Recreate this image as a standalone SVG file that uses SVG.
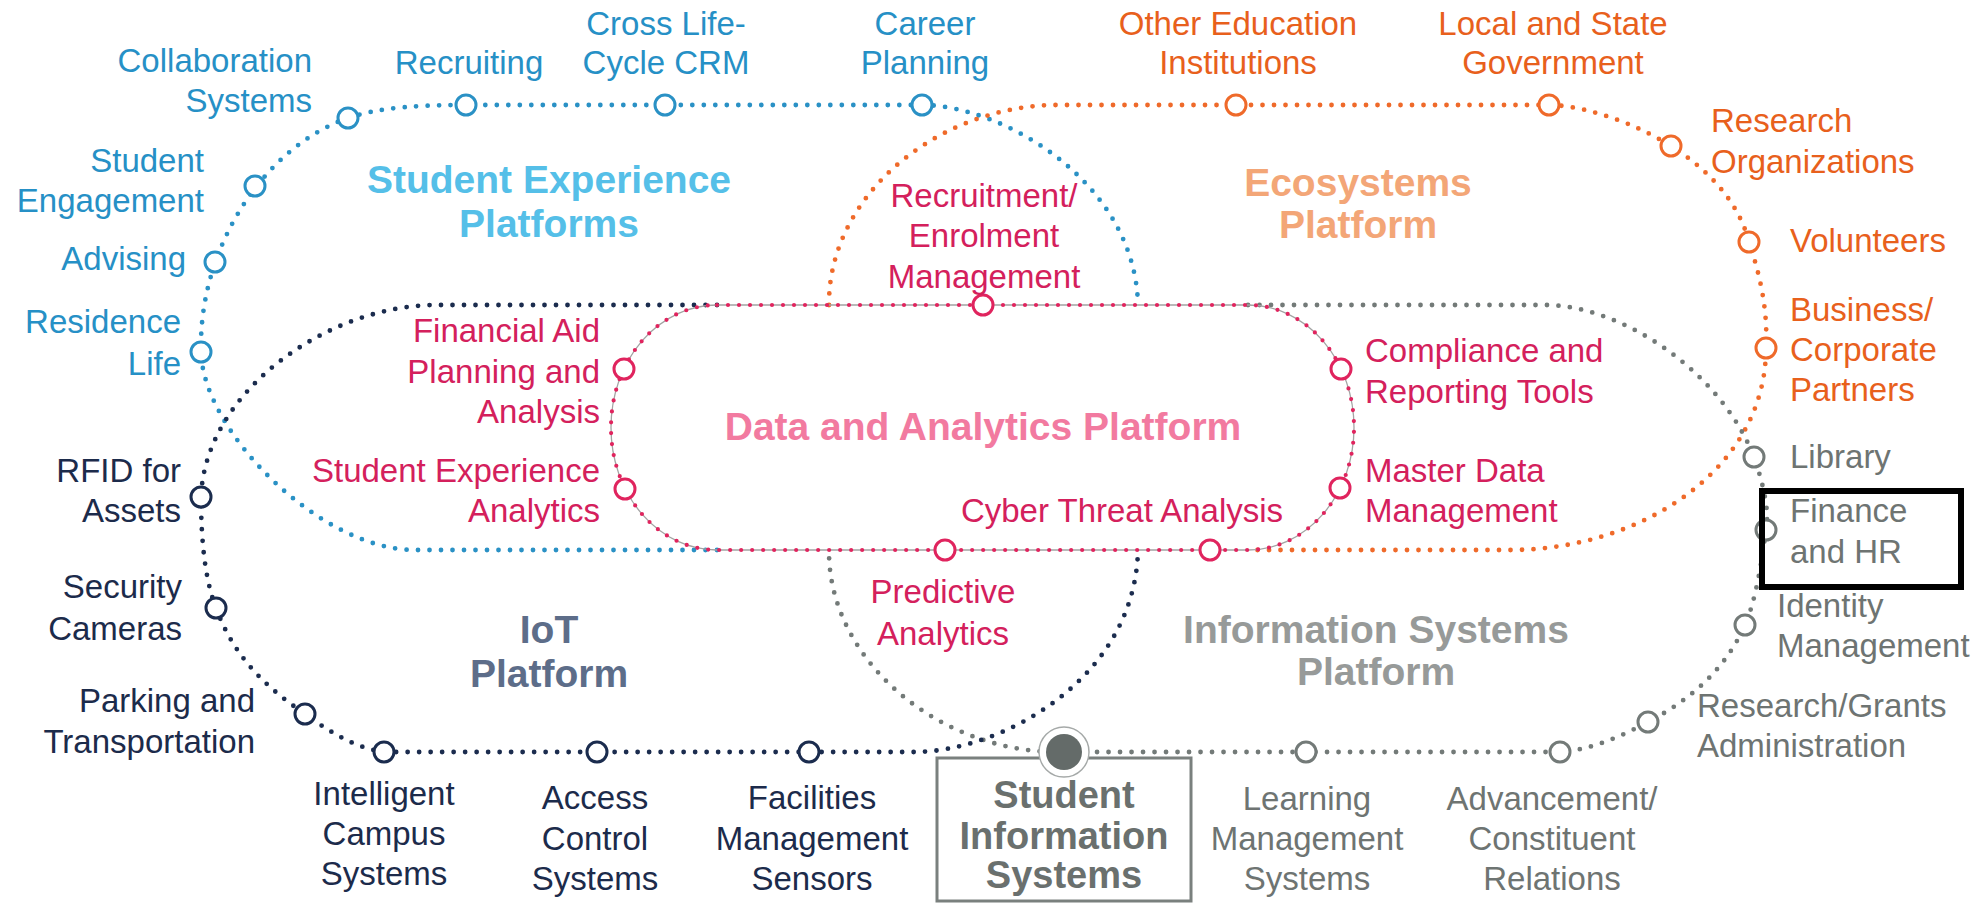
<svg xmlns="http://www.w3.org/2000/svg" width="1985" height="907" viewBox="0 0 1985 907">
<style>
text{font-family:"Liberation Sans",Arial,sans-serif;font-size:33px}
.dot{fill:none;stroke-width:4.8;stroke-linecap:round;stroke-dasharray:0 11.5}
.pd{fill:none;stroke-width:4.2;stroke-linecap:round;stroke-dasharray:0 11}
.n{fill:#fff;stroke-width:3}
.b{stroke:#2a91c5}.o{stroke:#ef6a2a}.g{stroke:#737a78}.v{stroke:#1b2c4e}.p{stroke:#e0245e}
.cb{fill:#2690c6}.co{fill:#e8601c}.cp{fill:#d4205c}.cn{fill:#1c2b4b}.cg{fill:#6e7472}
.t{font-weight:bold;font-size:39px}
.tb{fill:#55bfe8}.to{fill:#f3a677}.tp{fill:#f27aa0}.tn{fill:#5d6d89}.tg{fill:#979a99}
.m{text-anchor:middle}.e{text-anchor:end}
.sis{font-weight:bold;font-size:38px;fill:#6a706e}
</style>

<g id="connectors">
  <path class="dot b" d="M717,550 L415,550 C320,550 201,430 201,350 C199,250 262,148 348,118 C381,107 420,105 466,105 L922,105 C1000,105 1135,180 1138,305"/>
  <path class="dot o" d="M829,305 C828,200 930,110 1050,105 L1549,105 C1600,105 1725,150 1749,242 C1760,275 1768,310 1766,348 C1766,470 1640,550 1510,550 L1248,550"/>
  <path class="dot g" d="M1248,305 L1545,305 C1620,305 1720,370 1754,457 C1762,480 1770,510 1766,530 C1762,560 1756,600 1745,625 C1725,670 1690,700 1648,722 C1620,737 1590,750 1560,752 L1050,752 C930,747 828,655 829,550"/>
  <path class="dot v" d="M717,305 L436,305 C330,305 205,390 201,497 C201,540 205,580 216,608 C235,660 270,690 305,714 C330,732 355,748 384,752 L914,752 C1000,752 1135,680 1138,550"/>
  <rect x="611" y="305" width="743" height="245" rx="106" ry="122.5" fill="none" stroke="#a3a3a3" stroke-width="1.3"/>
  <rect class="pd p" x="611" y="305" width="743" height="245" rx="106" ry="122.5"/>
</g>

<g id="title-student-experience"><text class="t tb m" x="549" y="193">Student Experience</text><text class="t tb m" x="549" y="237">Platforms</text></g>
<g id="title-ecosystems"><text class="t to m" x="1358" y="196">Ecosystems</text><text class="t to m" x="1358" y="238">Platform</text></g>
<g id="title-data-analytics"><text class="t tp m" x="983" y="440">Data and Analytics Platform</text></g>
<g id="title-iot"><text class="t tn m" x="549" y="643">IoT</text><text class="t tn m" x="549" y="687">Platform</text></g>
<g id="title-information-systems"><text class="t tg m" x="1376" y="643">Information Systems</text><text class="t tg m" x="1376" y="685">Platform</text></g>

<!-- Student experience nodes -->
<g id="collaboration-systems"><circle class="n b" cx="348" cy="118" r="10"/><text class="cb e" x="312" y="72">Collaboration</text><text class="cb e" x="312" y="112">Systems</text></g>
<g id="recruiting"><circle class="n b" cx="466" cy="105" r="10"/><text class="cb m" x="469" y="74">Recruiting</text></g>
<g id="cross-life-cycle-crm"><circle class="n b" cx="665" cy="105" r="10"/><text class="cb m" x="666" y="35">Cross Life-</text><text class="cb m" x="666" y="74">Cycle CRM</text></g>
<g id="career-planning"><circle class="n b" cx="922" cy="105" r="10"/><text class="cb m" x="925" y="35">Career</text><text class="cb m" x="925" y="74">Planning</text></g>
<g id="student-engagement"><circle class="n b" cx="255" cy="186" r="10"/><text class="cb e" x="204" y="172">Student</text><text class="cb e" x="204" y="212">Engagement</text></g>
<g id="advising"><circle class="n b" cx="215" cy="262" r="10"/><text class="cb e" x="186" y="270">Advising</text></g>
<g id="residence-life"><circle class="n b" cx="201" cy="352" r="10"/><text class="cb e" x="181" y="333">Residence</text><text class="cb e" x="181" y="375">Life</text></g>

<!-- Ecosystems nodes -->
<g id="other-education"><circle class="n o" cx="1236" cy="105" r="10"/><text class="co m" x="1238" y="35">Other Education</text><text class="co m" x="1238" y="74">Institutions</text></g>
<g id="local-state-government"><circle class="n o" cx="1549" cy="105" r="10"/><text class="co m" x="1553" y="35">Local and State</text><text class="co m" x="1553" y="74">Government</text></g>
<g id="research-organizations"><circle class="n o" cx="1671" cy="146" r="10"/><text class="co" x="1711" y="132">Research</text><text class="co" x="1711" y="173">Organizations</text></g>
<g id="volunteers"><circle class="n o" cx="1749" cy="242" r="10"/><text class="co" x="1790" y="252">Volunteers</text></g>
<g id="business-partners"><circle class="n o" cx="1766" cy="348" r="10"/><text class="co" x="1790" y="321">Business/</text><text class="co" x="1790" y="361">Corporate</text><text class="co" x="1790" y="401">Partners</text></g>

<!-- Information systems nodes -->
<g id="library"><circle class="n g" cx="1754" cy="457" r="10"/><text class="cg" x="1790" y="468">Library</text></g>
<g id="finance-hr"><circle class="n g" cx="1766" cy="530" r="10"/><text class="cg" x="1790" y="522">Finance</text><text class="cg" x="1790" y="563">and HR</text><rect x="1762" y="491" width="199" height="96" fill="none" stroke="#000" stroke-width="6"/></g>
<g id="identity-management"><circle class="n g" cx="1745" cy="625" r="10"/><text class="cg" x="1777" y="617">Identity</text><text class="cg" x="1777" y="657">Management</text></g>
<g id="research-grants"><circle class="n g" cx="1648" cy="722" r="10"/><text class="cg" x="1697" y="717">Research/Grants</text><text class="cg" x="1697" y="757">Administration</text></g>
<g id="advancement"><circle class="n g" cx="1560" cy="752" r="10"/><text class="cg m" x="1552" y="810">Advancement/</text><text class="cg m" x="1552" y="850">Constituent</text><text class="cg m" x="1552" y="890">Relations</text></g>
<g id="learning-management"><circle class="n g" cx="1306" cy="752" r="10"/><text class="cg m" x="1307" y="810">Learning</text><text class="cg m" x="1307" y="850">Management</text><text class="cg m" x="1307" y="890">Systems</text></g>
<g id="student-information-systems">
  <rect x="937" y="758" width="254" height="143" fill="none" stroke="#7a807e" stroke-width="3"/>
  <circle cx="1064" cy="752" r="25" fill="#fff" stroke="#a5a9a8" stroke-width="1.5"/>
  <circle cx="1064" cy="752" r="18" fill="#646b69"/>
  <text class="sis m" x="1064" y="808">Student</text>
  <text class="sis m" x="1064" y="849">Information</text>
  <text class="sis m" x="1064" y="888">Systems</text>
</g>

<!-- IoT nodes -->
<g id="rfid-assets"><circle class="n v" cx="201" cy="497" r="10"/><text class="cn e" x="181" y="482">RFID for</text><text class="cn e" x="181" y="522">Assets</text></g>
<g id="security-cameras"><circle class="n v" cx="216" cy="608" r="10"/><text class="cn e" x="182" y="598">Security</text><text class="cn e" x="182" y="640">Cameras</text></g>
<g id="parking-transportation"><circle class="n v" cx="305" cy="714" r="10"/><text class="cn e" x="255" y="712">Parking and</text><text class="cn e" x="255" y="753">Transportation</text></g>
<g id="intelligent-campus"><circle class="n v" cx="384" cy="752" r="10"/><text class="cn m" x="384" y="805">Intelligent</text><text class="cn m" x="384" y="845">Campus</text><text class="cn m" x="384" y="885">Systems</text></g>
<g id="access-control"><circle class="n v" cx="597" cy="752" r="10"/><text class="cn m" x="595" y="809">Access</text><text class="cn m" x="595" y="850">Control</text><text class="cn m" x="595" y="890">Systems</text></g>
<g id="facilities-sensors"><circle class="n v" cx="809" cy="752" r="10"/><text class="cn m" x="812" y="809">Facilities</text><text class="cn m" x="812" y="850">Management</text><text class="cn m" x="812" y="890">Sensors</text></g>

<!-- Data and analytics nodes -->
<g id="recruitment-enrolment"><circle class="n p" cx="983" cy="305" r="10"/><text class="cp m" x="984" y="207">Recruitment/</text><text class="cp m" x="984" y="247">Enrolment</text><text class="cp m" x="984" y="288">Management</text></g>
<g id="financial-aid"><circle class="n p" cx="624" cy="369" r="10"/><text class="cp e" x="600" y="342">Financial Aid</text><text class="cp e" x="600" y="383">Planning and</text><text class="cp e" x="600" y="423">Analysis</text></g>
<g id="student-experience-analytics"><circle class="n p" cx="625" cy="489" r="10"/><text class="cp e" x="600" y="482">Student Experience</text><text class="cp e" x="600" y="522">Analytics</text></g>
<g id="compliance-reporting"><circle class="n p" cx="1341" cy="369" r="10"/><text class="cp" x="1365" y="362">Compliance and</text><text class="cp" x="1365" y="403">Reporting Tools</text></g>
<g id="master-data"><circle class="n p" cx="1340" cy="488" r="10"/><text class="cp" x="1365" y="482">Master Data</text><text class="cp" x="1365" y="522">Management</text></g>
<g id="cyber-threat"><circle class="n p" cx="1210" cy="550" r="10"/><text class="cp m" x="1122" y="522">Cyber Threat Analysis</text></g>
<g id="predictive-analytics"><circle class="n p" cx="945" cy="550" r="10"/><text class="cp m" x="943" y="603">Predictive</text><text class="cp m" x="943" y="645">Analytics</text></g>
</svg>
